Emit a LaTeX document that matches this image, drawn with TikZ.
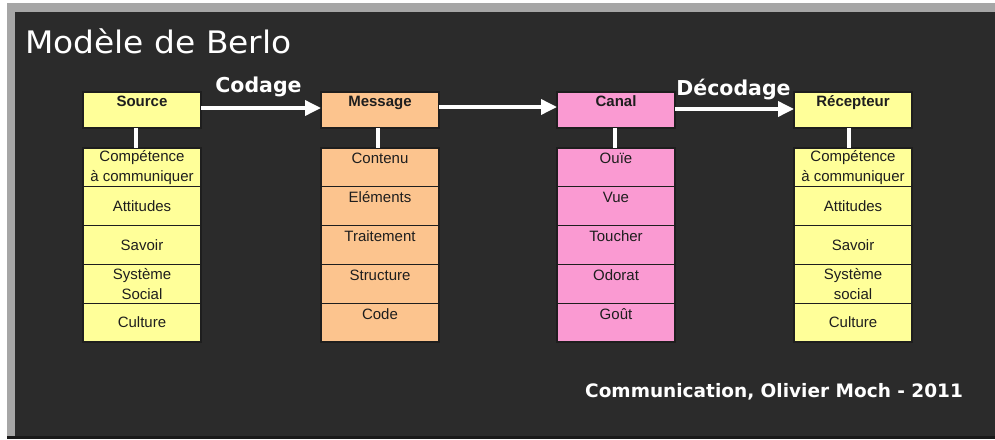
\documentclass[tikz,border=0pt]{standalone}
\usepackage{fontspec}
\setmainfont{Liberation Sans}
\newfontfamily\displayfont{DejaVu Sans}
\usetikzlibrary{arrows.meta,positioning}

\definecolor{panel}{HTML}{2B2B2B}
\definecolor{rim}{HTML}{A6A6A6}
\definecolor{cellyellow}{HTML}{FFFF99}
\definecolor{cellpeach}{HTML}{FCC48E}
\definecolor{cellpink}{HTML}{FA9AD2}
\definecolor{inkdark}{HTML}{1E1E1E}

% text inside the boxes
\newcommand{\celltop}[1]{\parbox[c][35pt][t]{114pt}{\centering\rule{0pt}{14pt}#1}}
\newcommand{\cellmid}[1]{\parbox[c][35pt][c]{114pt}{\centering\baselineskip=19.5pt #1\par}}
\newcommand{\headtxt}[1]{\parbox[c][33pt][t]{114pt}{\centering\rule{0pt}{12.5pt}\textbf{#1}}}

\begin{document}
\begin{tikzpicture}[x=1pt,y=-1pt,
  cell/.style={draw=inkdark, line width=1.3pt, minimum width=118pt,
    minimum height=38.8pt, inner sep=0pt, outer sep=0pt,
    text=inkdark, font=\fontsize{15}{17}\selectfont},
  headbox/.style={cell, minimum height=36pt, anchor=north west},
  firstcell/.style={cell, anchor=north west},
  nextcell/.style={cell, below=0pt of #1},
  link/.style={draw=white, line width=4pt},
  flow/.style={draw=white, line width=3.5pt,
    -{Triangle[length=16pt,width=15pt]}},
  steplabel/.style={text=white, anchor=base,
    font=\displayfont\bfseries\fontsize{20.5}{24}\selectfont},
]
% frame and dark panel
\fill[white] (0,0) rectangle (995,439);
\fill[rim] (7,3) rectangle (995,439);
\fill[panel] (15,12) rectangle (995,436);
\fill[black!90] (7,436) rectangle (995,439);

% title and footer
\node[anchor=base west, text=white, inner sep=0pt,
  font=\displayfont\fontsize{31}{34}\selectfont] (title) at (25,53)
  {\scalebox{1.06}[1]{Modèle de Berlo}};
\node[anchor=base west, text=white, inner sep=0pt,
  font=\displayfont\bfseries\fontsize{18.5}{22}\selectfont] (credit) at (585,397)
  {Communication, Olivier Moch - 2011};

% Source column
\node[headbox, fill=cellyellow] (src) at (83,92) {\headtxt{Source}};
\node[firstcell, fill=cellyellow] (src1) at (83,148) {\cellmid{Compétence\\à communiquer}};
\node[nextcell=src1, fill=cellyellow] (src2) {\cellmid{Attitudes}};
\node[nextcell=src2, fill=cellyellow] (src3) {\cellmid{Savoir}};
\node[nextcell=src3, fill=cellyellow] (src4) {\cellmid{Système\\Social}};
\node[nextcell=src4, fill=cellyellow] (src5) {\cellmid{Culture}};

% Message column
\node[headbox, fill=cellpeach] (msg) at (321,92) {\headtxt{Message}};
\node[firstcell, fill=cellpeach] (msg1) at (321,148) {\celltop{Contenu}};
\node[nextcell=msg1, fill=cellpeach] (msg2) {\celltop{Eléments}};
\node[nextcell=msg2, fill=cellpeach] (msg3) {\celltop{Traitement}};
\node[nextcell=msg3, fill=cellpeach] (msg4) {\celltop{Structure}};
\node[nextcell=msg4, fill=cellpeach] (msg5) {\celltop{Code}};

% Canal column
\node[headbox, fill=cellpink] (can) at (557,92) {\headtxt{Canal}};
\node[firstcell, fill=cellpink] (can1) at (557,148) {\celltop{Ouïe}};
\node[nextcell=can1, fill=cellpink] (can2) {\celltop{Vue}};
\node[nextcell=can2, fill=cellpink] (can3) {\celltop{Toucher}};
\node[nextcell=can3, fill=cellpink] (can4) {\celltop{Odorat}};
\node[nextcell=can4, fill=cellpink] (can5) {\celltop{Goût}};

% Récepteur column
\node[headbox, fill=cellyellow] (rec) at (794,92) {\headtxt{Récepteur}};
\node[firstcell, fill=cellyellow] (rec1) at (794,148) {\cellmid{Compétence\\à communiquer}};
\node[nextcell=rec1, fill=cellyellow] (rec2) {\cellmid{Attitudes}};
\node[nextcell=rec2, fill=cellyellow] (rec3) {\cellmid{Savoir}};
\node[nextcell=rec3, fill=cellyellow] (rec4) {\cellmid{Système\\social}};
\node[nextcell=rec4, fill=cellyellow] (rec5) {\cellmid{Culture}};

% links from each head to its list
\draw[link] ([xshift=-6pt]src.south) -- ([xshift=-6pt]src1.north);
\draw[link] ([xshift=-2pt]msg.south) -- ([xshift=-2pt]msg1.north);
\draw[link] ([xshift=-1pt]can.south) -- ([xshift=-1pt]can1.north);
\draw[link] ([xshift=-4pt]rec.south) -- ([xshift=-4pt]rec1.north);

% flow arrows
\draw[flow] ([yshift=2pt]src.east) -- ([yshift=2pt]msg.west);
\draw[flow] ([yshift=3pt]msg.east) -- ([yshift=3pt]can.west);
\draw[flow] ([yshift=1pt]can.east) -- ([yshift=1pt]rec.west);

% step labels
\node[steplabel] (codage) at (258.5,92) {Codage};
\node[steplabel] (decodage) at (733.5,95) {Décodage};
\end{tikzpicture}
\end{document}
